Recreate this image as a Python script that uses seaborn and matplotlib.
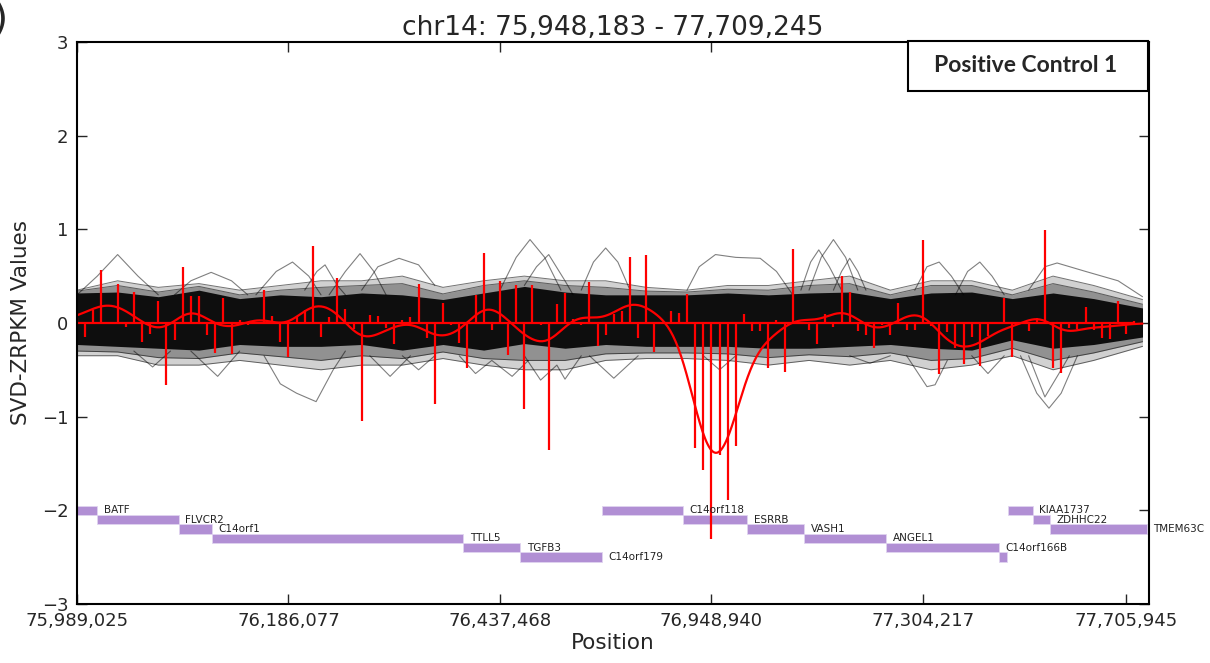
import numpy as np
import matplotlib
matplotlib.use("Agg")
import matplotlib.pyplot as plt
import seaborn as sns
import pandas as pd

# probe values for the sample (red stems), one per probe index
red_values = [0.05, -0.15, 0.14, 0.57, 0.0, 0.42, -0.04, 0.33, -0.20, -0.12,
              0.23, -0.66, -0.18, 0.60, 0.29, 0.29, -0.13, -0.32, 0.27, -0.33,
              0.03, -0.02, 0.01, 0.35, 0.07, -0.20, -0.36, 0.07, 0.14, 0.82,
              -0.15, 0.06, 0.48, 0.15, -0.06, -1.05, 0.09, 0.07, -0.05, -0.23,
              0.03, 0.06, 0.42, -0.16, -0.86, 0.21, -0.02, -0.21, -0.48, 0.30,
              0.75, -0.07, 0.45, -0.34, 0.41, -0.92, 0.41, -0.02, -1.36, 0.20,
              0.32, 0.04, -0.02, 0.44, -0.25, -0.13, 0.10, 0.13, 0.70, -0.16,
              0.73, -0.31, 0.0, 0.13, 0.11, 0.31, -1.34, -1.57, -2.31, -1.41,
              -1.89, -1.31, 0.10, -0.09, -0.09, -0.48, 0.03, -0.52, 0.79, 0.0,
              -0.07, -0.22, 0.10, -0.04, 0.50, 0.33, -0.09, -0.13, -0.27, -0.02,
              -0.13, 0.21, -0.07, -0.07, 0.89, -0.03, -0.54, -0.10, -0.27, -0.44,
              -0.15, -0.46, -0.14, 0.0, 0.27, -0.36, -0.01, -0.09, 0.05, 0.99,
              -0.48, -0.53, -0.05, -0.06, 0.17, -0.07, -0.16, -0.17, 0.23, -0.12,
              0.02]

# x tick positions (probe index) and their genomic labels
tick_idx = [0, 26, 52, 78, 104, 129]
tick_labels = ['75,989,025', '76,186,077', '76,437,468',
               '76,948,940', '77,304,217', '77,705,945']

# background samples: dense core, middle and loose outer band, read at knots
band_knots = [0, 5, 10, 15, 20, 25, 30, 35, 40, 45, 50, 55, 60, 65, 70,
              75, 80, 85, 90, 95, 100, 105, 110, 115, 120, 125, 131]
core_top = [0.32, 0.33, 0.28, 0.35, 0.26, 0.30, 0.28, 0.32, 0.30, 0.25, 0.32,
            0.39, 0.33, 0.30, 0.30, 0.30, 0.32, 0.30, 0.32, 0.33, 0.26, 0.32,
            0.33, 0.26, 0.32, 0.26, 0.16]
core_bottom = [-0.23, -0.25, -0.27, -0.29, -0.23, -0.25, -0.25, -0.23, -0.29,
               -0.23, -0.29, -0.22, -0.27, -0.23, -0.25, -0.25, -0.25, -0.27,
               -0.27, -0.25, -0.23, -0.27, -0.29, -0.18, -0.27, -0.23, -0.15]
mid_top = [0.34, 0.40, 0.33, 0.39, 0.30, 0.35, 0.38, 0.40, 0.42, 0.31, 0.40,
           0.45, 0.40, 0.38, 0.34, 0.33, 0.36, 0.35, 0.40, 0.42, 0.30, 0.40,
           0.40, 0.30, 0.42, 0.33, 0.20]
mid_bottom = [-0.30, -0.31, -0.37, -0.38, -0.32, -0.36, -0.40, -0.35, -0.38,
              -0.31, -0.38, -0.40, -0.40, -0.33, -0.32, -0.32, -0.33, -0.37,
              -0.34, -0.36, -0.32, -0.40, -0.38, -0.27, -0.40, -0.32, -0.20]
outer_top = [0.35, 0.45, 0.38, 0.42, 0.35, 0.40, 0.45, 0.45, 0.50, 0.38, 0.45,
             0.50, 0.45, 0.45, 0.38, 0.35, 0.40, 0.40, 0.45, 0.50, 0.35, 0.45,
             0.45, 0.35, 0.50, 0.40, 0.25]
outer_bottom = [-0.35, -0.35, -0.45, -0.45, -0.40, -0.45, -0.50, -0.45, -0.45,
                -0.38, -0.45, -0.50, -0.50, -0.40, -0.38, -0.38, -0.40, -0.45,
                -0.40, -0.45, -0.40, -0.50, -0.45, -0.35, -0.50, -0.40, -0.25]

# individual background curves that leave the band
outlier_traces = [
    [(0, 0.3), (2.5, 0.5), (5, 0.73), (7.5, 0.5), (10, 0.3)],
    [(12, 0.3), (14, 0.45), (16.5, 0.54), (19, 0.45), (21, 0.3)],
    [(22, 0.3), (24.5, 0.55), (26.5, 0.65), (28.5, 0.5), (30, 0.3)],
    [(28, 0.35), (29.5, 0.55), (30.5, 0.62), (32, 0.4), (33, 0.3)],
    [(31, 0.3), (33, 0.55), (34.8, 0.74), (36.5, 0.55), (38, 0.3)],
    [(35, 0.35), (37, 0.6), (39.6, 0.69), (42, 0.62), (44, 0.4)],
    [(52, 0.35), (54, 0.7), (55.7, 0.89), (57.5, 0.7), (59.5, 0.35)],
    [(55, 0.4), (56.5, 0.6), (58, 0.73), (60, 0.45), (61, 0.3)],
    [(62, 0.35), (63.5, 0.65), (65, 0.80), (66.5, 0.65), (68, 0.35)],
    [(75, 0.35), (76.5, 0.6), (78.5, 0.73), (81, 0.70), (84, 0.69), (86, 0.55), (88, 0.3)],
    [(89, 0.35), (90.2, 0.65), (91.2, 0.78), (92.5, 0.6), (94, 0.35)],
    [(90, 0.35), (91.5, 0.7), (93, 0.89), (94.5, 0.7), (96, 0.35)],
    [(93, 0.35), (94, 0.55), (95, 0.69), (96, 0.55), (97, 0.35)],
    [(103, 0.35), (104.5, 0.6), (106, 0.65), (107.5, 0.5), (109, 0.3)],
    [(108, 0.3), (109.5, 0.55), (111, 0.65), (112.5, 0.5), (114, 0.3)],
    [(117, 0.35), (119, 0.6), (120.5, 0.64), (124, 0.55), (128, 0.45), (131, 0.28)],
    [(7, -0.3), (9.3, -0.47), (11.5, -0.3)],
    [(14, -0.3), (17.3, -0.57), (20, -0.3)],
    [(23, -0.35), (25, -0.65), (27, -0.75), (29.4, -0.84), (31.5, -0.5), (33, -0.3)],
    [(36, -0.35), (38.5, -0.57), (41, -0.35)],
    [(40, -0.35), (42, -0.5), (44, -0.35)],
    [(47, -0.35), (49, -0.54), (51, -0.4), (53.5, -0.57), (55.5, -0.4)],
    [(55, -0.35), (57, -0.61), (59, -0.45), (60, -0.6), (62, -0.35)],
    [(63, -0.35), (66, -0.59), (69, -0.35)],
    [(77, -0.35), (79, -0.5), (81, -0.35)],
    [(95, -0.35), (97.5, -0.43), (100, -0.35)],
    [(102, -0.35), (104.5, -0.68), (105.5, -0.66), (107, -0.4)],
    [(110, -0.35), (112, -0.54), (114, -0.35)],
    [(116, -0.35), (118, -0.75), (119.5, -0.91), (121, -0.75), (123, -0.35)],
    [(117, -0.35), (119, -0.79), (121, -0.5), (122, -0.35)],
]

# gene track
gene_names = ['BATF', 'FLVCR2', 'C14orf1', 'TTLL5', 'TGFB3', 'C14orf179',
              'C14orf118', 'ESRRB', 'VASH1', 'ANGEL1', 'C14orf166B', '',
              'KIAA1737', 'ZDHHC22', 'TMEM63C']
gene_start = [0.0, 2.5, 12.5, 16.6, 47.5, 54.5, 64.5, 74.5, 82.4, 89.4,
              99.5, 113.4, 114.5, 117.5, 119.6]
gene_end = [2.5, 12.5, 16.6, 47.5, 54.5, 64.5, 74.5, 82.4, 89.4, 99.5,
            113.4, 114.3, 117.5, 119.6, 131.5]
gene_level = [-2.0, -2.1, -2.2, -2.3, -2.4, -2.5, -2.0, -2.1, -2.2, -2.3,
              -2.4, -2.5, -2.0, -2.1, -2.2]

sns.set_style('ticks')
plt.rcParams['font.family'] = ['DejaVu Sans']

fig = plt.figure(figsize=(12.1, 6.63), dpi=100)
ax = fig.add_axes([0.0636, 0.089, 0.8860, 0.8478])

# background samples
ax.fill_between(band_knots, outer_bottom, outer_top, color='black', alpha=0.18, lw=0)
ax.fill_between(band_knots, mid_bottom, mid_top, color='black', alpha=0.3, lw=0)
ax.fill_between(band_knots, core_bottom, core_top, color='black', alpha=0.9, lw=0)
for edge in (outer_top, outer_bottom, mid_top, mid_bottom):
    ax.plot(band_knots, edge, color='black', lw=0.7, alpha=0.55)

rows = []
for t, trace in enumerate(outlier_traces):
    for x, y in trace:
        rows.append((t, x, y))
traces = pd.DataFrame(rows, columns=['trace', 'idx', 'val'])
sns.lineplot(data=traces, x='idx', y='val', units='trace', estimator=None,
             sort=False, color='black', lw=0.8, alpha=0.5, ax=ax)

# gene bars
for name, s, e, lvl in zip(gene_names, gene_start, gene_end, gene_level):
    ax.barh(lvl, e - s, left=s, height=0.1, color='#b18fd4',
            edgecolor='#e0d4f0', linewidth=0.6)
    if name:
        ax.text(e + 0.8, lvl, name, fontsize=7.5, va='center', ha='left',
                color='#222222', clip_on=False)

# sample stems and smoothed sample
idx = np.arange(len(red_values))
vals = np.array(red_values)
ax.vlines(idx, 0, vals, color='#ff0000', lw=1.6)
ax.plot([0, idx[-1]], [0, 0], color='#ff0000', lw=1.6)

grid = np.linspace(0, 131, 800)
w = np.exp(-0.5 * ((grid[:, None] - idx[None, :]) / 2.2) ** 2)
smooth = (w * vals).sum(axis=1) / w.sum(axis=1)
sns.lineplot(x=grid, y=smooth, color='#ff0000', lw=1.6, ax=ax)

ax.set_xlim(0, 131.8)
ax.set_ylim(-3, 3)
ax.set_yticks([-3, -2, -1, 0, 1, 2, 3])
ax.set_yticklabels(['\u22123', '\u22122', '\u22121', '0', '1', '2', '3'])
ax.set_xticks(tick_idx)
ax.set_xticklabels(tick_labels)
ax.tick_params(direction='in', top=True, right=True, length=7, width=1,
               labelsize=13, pad=6)
for sp in ax.spines.values():
    sp.set_visible(True)
    sp.set_linewidth(1.5)
    sp.set_color('black')

ax.set_title('chr14: 75,948,183 - 77,709,245', fontsize=19, pad=5)
ax.set_xlabel('Position', fontsize=15.5, labelpad=2)
ax.set_ylabel('SVD-ZRPKM Values', fontsize=15.5, labelpad=8)

# overlay box
box = plt.Rectangle((908 / 1210, 1 - 91 / 663), 240 / 1210, 50 / 663,
                    transform=fig.transFigure, facecolor='white',
                    edgecolor='black', lw=1.5, zorder=10)
fig.patches.append(box)
fig.text(1026 / 1210, 1 - 66 / 663, 'Positive Control 1', ha='center',
         va='center', fontsize=16.5, fontweight='bold',
         family=['Lato', 'DejaVu Sans'], zorder=11)
fig.text(-0.006, 0.998, ')', fontsize=28, va='top', ha='left')

fig.savefig('out.png', dpi=100)
